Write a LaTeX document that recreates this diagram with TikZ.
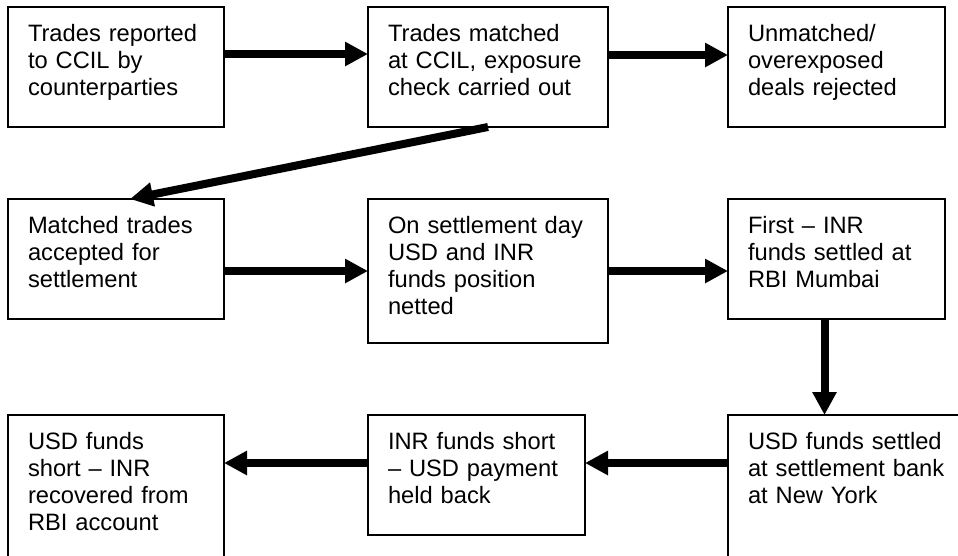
\documentclass[tikz,border=0pt]{standalone}
\usepackage{fontspec}
\setmainfont{Liberation Sans}
\usetikzlibrary{arrows.meta}

\begin{document}
\begin{tikzpicture}[x=1pt,y=-1pt,
        stepbox/.style={draw,line width=1.5pt,anchor=north west,align=left,
            outer sep=0pt,inner xsep=20pt,inner ysep=0pt,text height=34pt,
            text depth=86pt,font=\fontsize{23.7}{27.3}\selectfont},
        flow/.style={line width=8pt,-{Triangle[length=23pt,width=23pt]}}
    ]
    \useasboundingbox (0,0) rectangle (958,555);

    % first row
    \node[stepbox,text width=176pt] (rep) at (8,7)
        {Trades reported\\to CCIL by\\counterparties};
    \node[stepbox,text width=200pt] (match) at (368,7)
        {Trades matched\\at CCIL, exposure\\check carried out};
    \node[stepbox,text width=177pt] (rej) at (728,7)
        {Unmatched/\\overexposed\\deals rejected};

    % second row
    \node[stepbox,text width=176pt] (acc) at (8,199)
        {Matched trades\\accepted for\\settlement};
    \node[stepbox,text width=200pt,text depth=110pt] (net) at (368,199)
        {On settlement day\\USD and INR\\funds position\\netted};
    \node[stepbox,text width=177pt] (inr) at (728,199)
        {First – INR\\funds settled at\\RBI Mumbai};

    % third row
    \node[stepbox,text width=176pt,text depth=136pt] (rec) at (8,415)
        {USD funds\\short – INR\\recovered from\\RBI account};
    \node[stepbox,text width=177pt] (held) at (368,415)
        {INR funds short\\– USD payment\\held back};
    \node[stepbox,text width=200pt,text depth=136pt] (usd) at (728,415)
        {USD funds settled\\at settlement bank\\at New York};

    \draw[flow]
    ([yshift=-47pt]rep.north east) -- ([yshift=-47pt]match.north west)
    ;
    \draw[flow]
    ([yshift=-48pt]match.north east) -- ([yshift=-48pt]rej.north west)
    ;
    \draw[flow]
    (match.south) -- ([xshift=14pt]acc.north)
    ;
    \draw[flow]
    ([yshift=-72pt]acc.north east) -- ([yshift=-72pt]net.north west)
    ;
    \draw[flow]
    ([yshift=-72pt]net.north east) -- ([yshift=-72pt]inr.north west)
    ;
    \draw[flow]
    ([xshift=-12pt]inr.south) coordinate (drop) -- (drop |- usd.north)
    ;
    \draw[flow]
    ([yshift=-48pt]usd.north west) -- ([yshift=-48pt]held.north east)
    ;
    \draw[flow]
    ([yshift=-48pt]held.north west) -- ([yshift=-48pt]rec.north east)
    ;
\end{tikzpicture}
\end{document}
